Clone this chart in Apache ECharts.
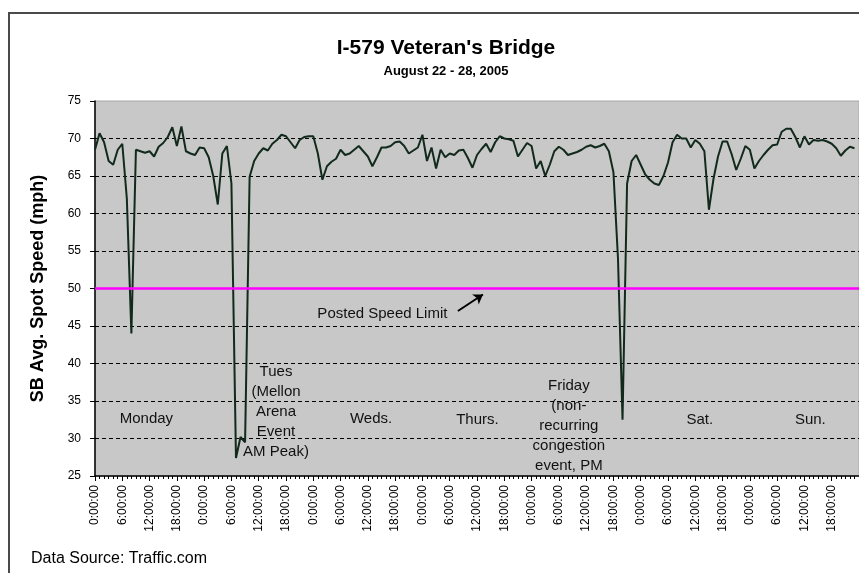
<!DOCTYPE html>
<html>
<head>
<meta charset="utf-8">
<title>I-579 Veteran's Bridge</title>
<script src="https://cdn.jsdelivr.net/npm/echarts@6/dist/echarts.min.js"></script>
</head>
<body style="margin:0;background:#fff">
<div id="chart" style="width:859px;height:573px"></div>
<script>
// hourly SB average spot speed (mph), one array per day, hour 0..23
var monday    = [68.5, 70.7, 69.5, 67.0, 66.5, 68.5, 69.3, 62.0, 44.0, 68.5, 68.3, 68.1,
                 68.3, 67.6, 68.9, 69.4, 70.2, 71.5, 69.0, 71.6, 68.3, 68.0, 67.8, 68.8];
var tuesday   = [68.7, 67.5, 65.0, 61.2, 68.0, 69.0, 64.0, 27.4, 30.2, 29.5, 64.9, 67.0,
                 68.0, 68.7, 68.4, 69.3, 69.8, 70.5, 70.3, 69.5, 68.7, 69.8, 70.2, 70.3];
var wednesday = [70.3, 68.0, 64.5, 66.3, 66.9, 67.3, 68.5, 67.8, 68.0, 68.5, 69.0, 68.3,
                 67.6, 66.3, 67.5, 68.8, 68.8, 69.0, 69.5, 69.6, 69.0, 68.0, 68.4, 68.8];
var thursday  = [70.5, 67.0, 68.8, 66.0, 68.5, 67.5, 68.0, 67.8, 68.4, 68.5, 67.4, 66.1,
                 67.8, 68.6, 69.3, 68.2, 69.5, 70.3, 70.0, 69.9, 69.7, 67.6, 68.5, 69.4];
var friday    = [69.0, 66.0, 67.0, 65.0, 66.5, 68.3, 68.9, 68.5, 67.8, 68.0, 68.2, 68.5,
                 68.9, 69.1, 68.8, 69.0, 69.3, 68.3, 65.5, 54.0, 32.5, 64.0, 67.0, 67.8];
var saturday  = [66.5, 65.2, 64.5, 64.0, 63.8, 65.0, 66.8, 69.5, 70.5, 70.0, 70.0, 68.8,
                 69.8, 69.3, 68.3, 60.5, 64.6, 67.6, 69.6, 69.6, 67.9, 65.8, 67.3, 69.0];
var sunday    = [68.5, 66.0, 67.0, 67.8, 68.5, 69.1, 69.2, 70.9, 71.3, 71.3, 70.2, 68.8,
                 70.3, 69.2, 69.8, 69.7, 69.8, 69.6, 69.3, 68.7, 67.7, 68.4, 68.9, 68.7];

var hourLabels = ['0:00:00', '6:00:00', '12:00:00', '18:00:00'];
var speedLimit = 50;

// annotation texts placed at [hour, mph]
var notes = [
  { text: 'Monday', at: [11.3, 32.6] },
  { text: 'Tues\n(Mellon\nArena\nEvent\nAM Peak)', at: [39.8, 33.5] },
  { text: 'Weds.', at: [60.7, 32.6] },
  { text: 'Thurs.', at: [84.1, 32.5] },
  { text: 'Friday\n(non-\nrecurring\ncongestion\nevent, PM', at: [104.2, 31.7] },
  { text: 'Sat.', at: [133.0, 32.5] },
  { text: 'Sun.', at: [157.3, 32.5] },
  { text: 'Posted Speed Limit', at: [63.2, 46.6] }
];
var arrowFrom = [79.8, 47.0];
var arrowTo = [85.3, 49.2];

var speeds = monday.concat(tuesday, wednesday, thursday, friday, saturday, sunday);
var points = speeds.map(function (v, i) { return [i, v]; });

var font = 'Liberation Sans, Arial, sans-serif';
var chart = echarts.init(document.getElementById('chart'));

chart.setOption({
  animation: false,
  backgroundColor: '#ffffff',
  title: {
    text: "I-579 Veteran's Bridge",
    subtext: 'August 22 - 28, 2005',
    left: 441,
    top: 33,
    textAlign: 'center',
    itemGap: 6,
    textStyle: { fontFamily: font, fontSize: 21, fontWeight: 'bold', color: '#000' },
    subtextStyle: { fontFamily: font, fontSize: 13, fontWeight: 'bold', color: '#000' }
  },
  graphic: [
    {
      type: 'rect',
      shape: { x: 9, y: 13, width: 900, height: 600 },
      style: { fill: 'none', stroke: '#4a4a4a', lineWidth: 2 },
      silent: true
    },
    {
      type: 'text',
      left: 31,
      top: 551,
      style: { text: 'Data Source: Traffic.com', fontFamily: font, fontSize: 16, fill: '#000' }
    }
  ],
  grid: {
    left: 95,
    right: 0,
    top: 101,
    bottom: 97,
    show: true,
    backgroundColor: '#c8c8c8',
    borderColor: '#a8a8a8',
    borderWidth: 1
  },
  xAxis: {
    type: 'value',
    min: 0,
    max: 168,
    interval: 6,
    axisLine: { onZero: false, lineStyle: { color: '#000', width: 1.5 } },
    axisTick: { show: true, length: 5, lineStyle: { color: '#000' } },
    minorTick: { show: true, splitNumber: 6, length: 3, lineStyle: { color: '#000' } },
    splitLine: { show: false },
    axisLabel: {
      rotate: 90,
      margin: 9,
      showMaxLabel: false,
      fontFamily: font,
      fontSize: 12,
      color: '#000',
      formatter: function (v) { return hourLabels[(v % 24) / 6]; }
    }
  },
  yAxis: {
    type: 'value',
    min: 25,
    max: 75,
    interval: 5,
    name: 'SB Avg. Spot Speed (mph)',
    nameLocation: 'middle',
    nameGap: 48,
    nameTextStyle: { fontFamily: font, fontSize: 18, fontWeight: 'bold', color: '#000' },
    axisLine: { show: true, lineStyle: { color: '#000', width: 1.5 } },
    axisTick: { show: true, length: 5, lineStyle: { color: '#000' } },
    axisLabel: { margin: 14, fontFamily: font, fontSize: 12, color: '#000' },
    splitLine: {
      show: true,
      showMinLine: false,
      showMaxLine: false,
      lineStyle: { color: '#000', type: [4, 3], width: 1 }
    }
  },
  series: [
    {
      type: 'line',
      data: points,
      showSymbol: false,
      symbol: 'none',
      lineStyle: { color: '#112a1c', width: 2 },
      z: 3,
      markLine: {
        silent: true,
        symbol: 'none',
        label: { show: false },
        data: [
          { yAxis: speedLimit, lineStyle: { color: '#ff00ff', width: 2.5, type: 'solid' } },
          [
            { coord: arrowFrom, symbol: 'none', lineStyle: { color: '#000', width: 2, type: 'solid' } },
            { coord: arrowTo, symbol: 'arrow', symbolSize: 9 }
          ]
        ]
      },
      markPoint: {
        silent: true,
        symbol: 'circle',
        symbolSize: 0,
        label: {
          show: true,
          position: 'inside',
          fontFamily: font,
          fontSize: 15,
          lineHeight: 20,
          color: '#111',
          align: 'center'
        },
        data: notes.map(function (n) {
          return { coord: n.at, label: { formatter: n.text } };
        })
      }
    }
  ]
});
</script>
</body>
</html>
